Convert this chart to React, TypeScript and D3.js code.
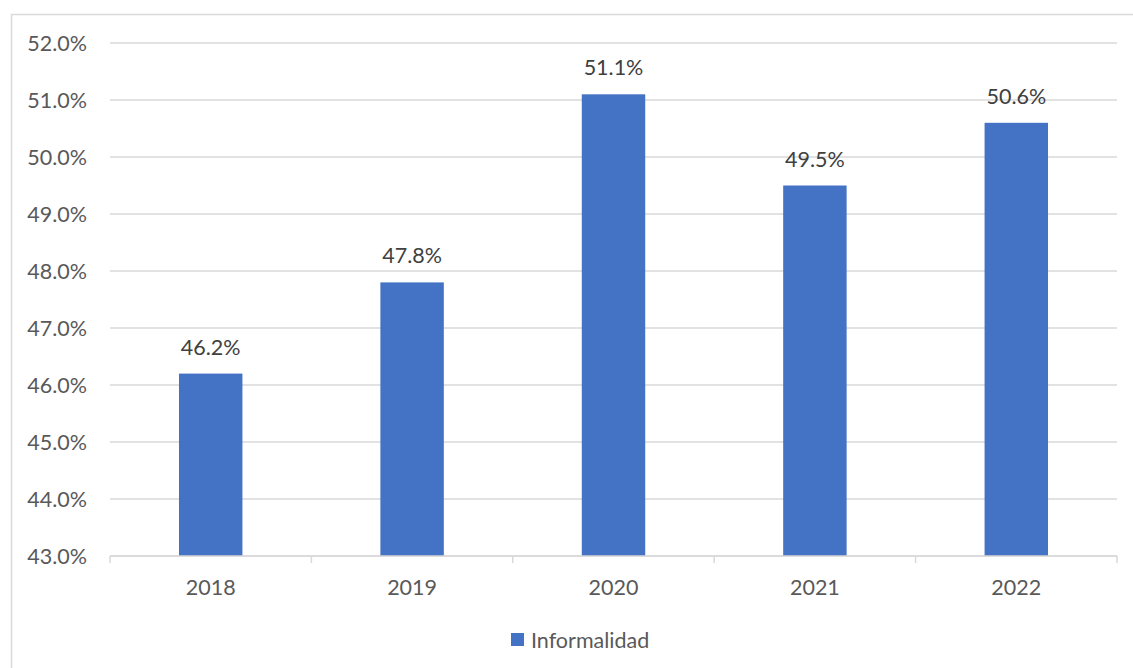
import React from "react";
import * as d3 from "d3";

const categories = ["2018", "2019", "2020", "2021", "2022"];
const values = [46.2, 47.8, 51.1, 49.5, 50.6];
const yTicks = [43, 44, 45, 46, 47, 48, 49, 50, 51, 52];
const seriesName = "Informalidad";

const W = 1133;
const H = 668;
const FONT = "Lato, 'Open Sans', sans-serif";
const FS = 21.5;

export default function App() {
  const left = 110;
  const right = 1117;
  const top = 43;
  const bottom = 556;
  const x = d3.scaleBand<string>().domain(categories).range([left, right]).padding(0);
  const y = d3.scaleLinear().domain([43, 52]).range([bottom, top]);
  const barW = x.bandwidth() * 0.315;
  const fmt = (v: number) => v.toFixed(1) + "%";

  return (
    <svg
      width={W}
      height={H}
      style={{ position: "absolute", left: 0, top: 0, background: "#fff" }}
      fontFamily={FONT}
    >
      <rect x={11.5} y={14.5} width={1200} height={700} fill="#fff" stroke="#D9D9D9" strokeWidth={1.5} />
      {yTicks.map((t) => (
        <g key={t}>
          <line x1={left} x2={right} y1={y(t)} y2={y(t)} stroke="#D9D9D9" strokeWidth={1.5} />
          <text x={87} y={y(t)} dy="0.36em" textAnchor="end" fontSize={FS} fill="#595959">
            {fmt(t)}
          </text>
        </g>
      ))}
      {categories.map((c, i) => (
        <rect
          key={c}
          x={(x(c) as number) + x.bandwidth() / 2 - barW / 2}
          y={y(values[i])}
          width={barW}
          height={y(43) - y(values[i])}
          fill="#4472C4"
        />
      ))}
      <line x1={left} x2={right} y1={bottom} y2={bottom} stroke="#D9D9D9" strokeWidth={1.5} />
      {categories.map((c) => (
        <line key={"t" + c} x1={x(c) as number} x2={x(c) as number} y1={bottom} y2={bottom + 7} stroke="#D9D9D9" strokeWidth={1.5} />
      ))}
      <line x1={right} x2={right} y1={bottom} y2={bottom + 7} stroke="#D9D9D9" strokeWidth={1.5} />
      {categories.map((c) => (
        <text key={"l" + c} x={(x(c) as number) + x.bandwidth() / 2} y={595} textAnchor="middle" fontSize={FS} fill="#595959">
          {c}
        </text>
      ))}
      {categories.map((c, i) => (
        <text key={"d" + c} x={(x(c) as number) + x.bandwidth() / 2} y={y(values[i]) - 19} textAnchor="middle" fontSize={FS} fill="#404040">
          {fmt(values[i])}
        </text>
      ))}
      <rect x={511} y={633} width={13} height={13} fill="#4472C4" />
      <text x={531} y={648} fontSize={FS} fill="#595959">
        {seriesName}
      </text>
    </svg>
  );
}
